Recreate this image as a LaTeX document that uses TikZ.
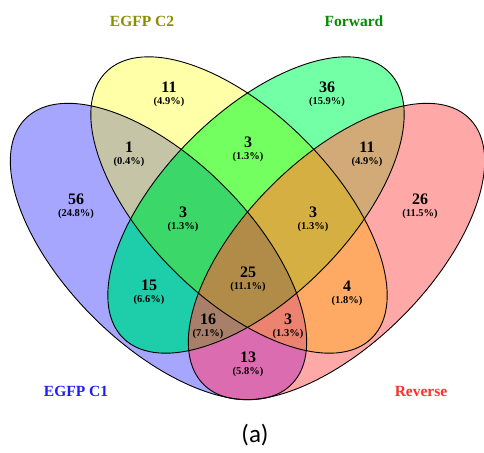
\documentclass[tikz,border=0pt]{standalone}
\usepackage{fontspec}
\setmainfont{Liberation Serif}
\newfontfamily\capfont{Carlito}
\usepackage{tikz}
\usetikzlibrary{calc}
% region colours
\definecolor{cA}{RGB}{166,166,255}
\definecolor{cB}{RGB}{255,255,168}
\definecolor{cC}{RGB}{115,255,165}
\definecolor{cD}{RGB}{255,168,168}
\definecolor{cAB}{RGB}{198,196,166}
\definecolor{cAC}{RGB}{30,205,170}
\definecolor{cAD}{RGB}{220,108,176}
\definecolor{cBC}{RGB}{115,255,95}
\definecolor{cBD}{RGB}{255,170,100}
\definecolor{cCD}{RGB}{210,170,120}
\definecolor{cABC}{RGB}{60,215,105}
\definecolor{cABD}{RGB}{236,130,112}
\definecolor{cACD}{RGB}{168,128,106}
\definecolor{cBCD}{RGB}{213,175,65}
\definecolor{cABCD}{RGB}{176,140,72}
\definecolor{lA}{RGB}{30,30,245}
\definecolor{lB}{RGB}{140,140,0}
\definecolor{lC}{RGB}{0,140,0}
\definecolor{lD}{RGB}{255,45,45}
\tikzset{vA/.style={shift={(158.5,251.5)}, rotate=-45},
  vB/.style={shift={(239,205)}, rotate=-45},
  vC/.style={shift={(256,205)}, rotate=45},
  vD/.style={shift={(336.5,251.5)}, rotate=45}}
\tikzset{cnt/.style={inner sep=0pt, font=\bfseries\fontsize{16}{16}\selectfont},
  pct/.style={inner sep=0pt, font=\bfseries\fontsize{10.5}{10.5}\selectfont},
  setname/.style={inner sep=0pt, font=\bfseries\fontsize{15.5}{15.5}\selectfont}}
\newcommand\lobe{(0,0) ellipse [x radius=188, y radius=92.5]}

\begin{document}
\begin{tikzpicture}[x=1pt, y=-1pt]
  \useasboundingbox[fill=white] (0,0) rectangle (484,452);
  %%%%%%%%% fills, painted from single sets up to all four
  \foreach \s in {A,B,C,D} \fill[fill=c\s, v\s] \lobe;
  \foreach \s/\t in {A/B,A/C,A/D,B/C,B/D,C/D} {
    \begin{scope} \clip[v\s] \lobe; \fill[fill=c\s\t, v\t] \lobe; \end{scope}}
  \foreach \s/\t/\u in {A/B/C,A/B/D,A/C/D,B/C/D} {
    \begin{scope} \clip[v\s] \lobe; \clip[v\t] \lobe;
      \fill[fill=c\s\t\u, v\u] \lobe; \end{scope}}
  \begin{scope} \clip[vA] \lobe; \clip[vB] \lobe; \clip[vC] \lobe;
    \fill[fill=cABCD, vD] \lobe; \end{scope}
  \foreach \s in {A,B,C,D} \draw[line width=0.9pt, v\s] \lobe;
  %%%%%%%%% counts
  \foreach \nm/\x/\y/\c/\p in {a/76/200/56/24.8, b/169/88/11/4.9,
      c/327/88/36/15.9, d/420/200/26/11.5, ab/129/148/1/0.4, bc/248/143/3/1.3,
      cd/367/148/11/4.9, abc/183/213/3/1.3, bcd/313/213/3/1.3, ac/149/286/15/6.6,
      abcd/248/273/25/11.1, bd/347/287/4/1.8, acd/208/320/16/7.1,
      abd/288/320/3/1.3, ad/248/358/13/5.8} {
    \node[cnt] (n\nm) at (\x,\y-0.5) {\c};
    \node[pct] (p\nm) at (\x,\y+13.5) {(\p\%)};
  }
  \node[setname, lA] (setA) at (76,391) {EGFP C1};
  \node[setname, lB] (setB) at (142,21) {EGFP C2};
  \node[setname, lC] (setC) at (354,21) {Forward};
  \node[setname, lD] (setD) at (421,391) {Reverse};
  \node[inner sep=0pt, font=\capfont\fontsize{25}{25}\selectfont] (cap) at (255,435) {(a)};
\end{tikzpicture}
\end{document}
